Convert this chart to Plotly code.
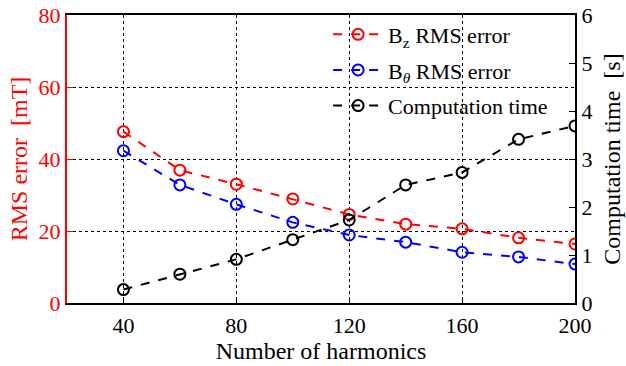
import plotly.graph_objects as go

harmonics = [40, 60, 80, 100, 120, 140, 160, 180, 200]
bz_rms = [47.6, 36.9, 33.0, 28.9, 24.6, 21.9, 20.6, 18.1, 16.4]
btheta_rms = [42.3, 32.8, 27.4, 22.4, 18.9, 16.9, 14.1, 12.8, 10.8]
comp_time = [0.28, 0.60, 0.91, 1.32, 1.73, 2.46, 2.72, 3.41, 3.69]

FONT = "Liberation Serif"

fig = go.Figure()
marker = dict(symbol="circle-open", size=11, line=dict(width=2))
fig.add_trace(go.Scatter(x=harmonics, y=bz_rms, mode="lines+markers",
                         name="B<sub>z</sub> RMS error", legendgroup="a",
                         line=dict(color="red", width=2, dash="dash"),
                         marker=dict(color="red", **marker)))
fig.add_trace(go.Scatter(x=harmonics, y=btheta_rms, mode="lines+markers",
                         name="B<sub><i>θ</i></sub> RMS error", legendgroup="b",
                         line=dict(color="blue", width=2, dash="dash"),
                         marker=dict(color="blue", **marker)))
fig.add_trace(go.Scatter(x=harmonics, y=comp_time, mode="lines+markers",
                         name="Computation time", yaxis="y2", legendgroup="c",
                         line=dict(color="black", width=2, dash="dash"),
                         marker=dict(color="black", **marker)))

fig.update_layout(
    width=626, height=366,
    margin=dict(l=67, r=51, t=15, b=63),
    paper_bgcolor="white", plot_bgcolor="white",
    font=dict(family=FONT, size=22, color="black"),
    showlegend=True,
    legend=dict(x=0.514, y=1.005, xanchor="left", yanchor="top",
                bgcolor="rgba(0,0,0,0)", font=dict(size=22),
                itemwidth=50, traceorder="grouped", tracegroupgap=4),
    xaxis=dict(range=[20, 200], tickvals=[40, 80, 120, 160, 200],
               showgrid=True, gridcolor="black", griddash="dot", gridwidth=1,
               showline=True, linecolor="black", linewidth=2, mirror=True,
               ticks="inside", ticklen=6, tickcolor="black",
               ticklabelstandoff=2,
               zeroline=False, automargin=False,
               title=dict(text="Number of harmonics", standoff=2,
                          font=dict(size=24))),
    yaxis=dict(range=[0, 80], tickvals=[0, 20, 40, 60, 80],
               showgrid=True, gridcolor="black", griddash="dot", gridwidth=1,
               showline=True, linecolor="red", linewidth=2,
               ticks="inside", ticklen=6, tickcolor="red",
               tickfont=dict(color="red"), zeroline=False, automargin=False,
               title=dict(text="RMS error  [mT]", font=dict(color="red", size=24),
                          standoff=4)),
    yaxis2=dict(range=[0, 6], tickvals=[0, 1, 2, 3, 4, 5, 6],
                overlaying="y", side="right", showgrid=False,
                showline=True, linecolor="black", linewidth=2,
                ticks="inside", ticklen=6, tickcolor="black",
                zeroline=False, automargin=False,
                title=dict(text="Computation time  [s]", font=dict(size=24),
                           standoff=12)),
)

fig.write_html("out.html")
